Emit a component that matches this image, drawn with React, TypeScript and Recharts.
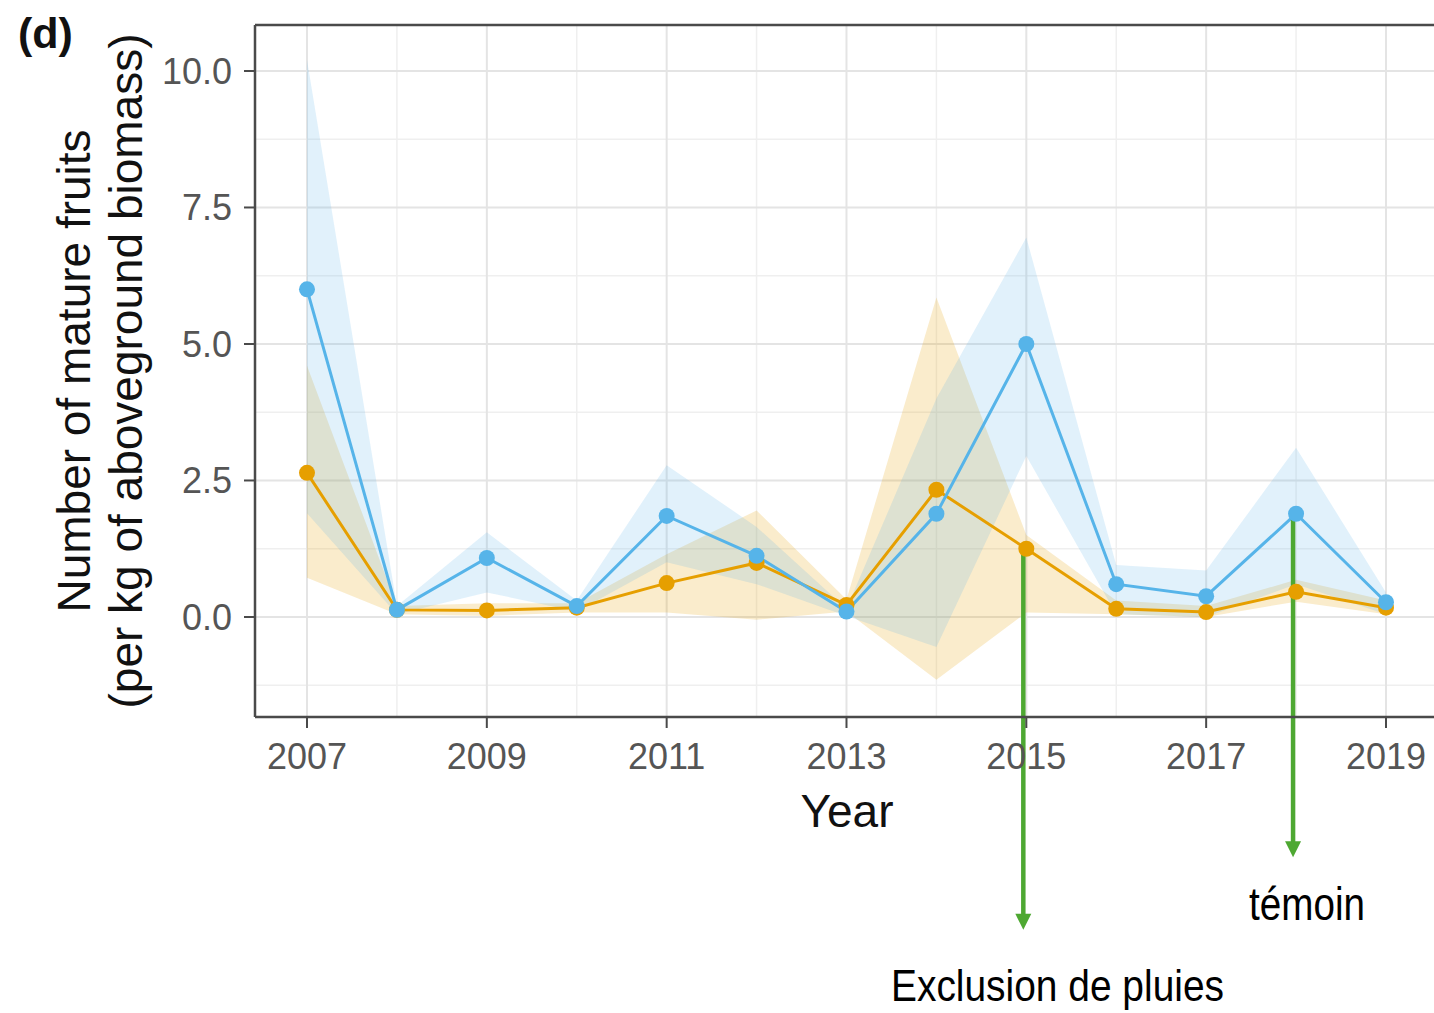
import React from 'react';
import {
  ComposedChart,
  Area,
  Line,
  XAxis,
  YAxis,
  CartesianGrid,
  ReferenceLine,
} from 'recharts';

// Years of observation
const years = [2007, 2008, 2009, 2010, 2011, 2012, 2013, 2014, 2015, 2016, 2017, 2018, 2019];

// Control plots (témoin): mean and confidence band
const temoinMean = [6.0, 0.13, 1.08, 0.2, 1.85, 1.12, 0.1, 1.89, 5.0, 0.6, 0.38, 1.89, 0.27];
const temoinLow = [1.9, 0.05, 0.45, 0.1, 1.0, 0.6, 0.02, -0.55, 2.95, 0.05, 0.0, 0.6, 0.05];
const temoinHigh = [10.2, 0.2, 1.55, 0.3, 2.78, 1.65, 0.15, 4.0, 6.95, 0.95, 0.85, 3.1, 0.45];

// Rain exclusion plots: mean and confidence band
const exclusionMean = [2.64, 0.13, 0.12, 0.17, 0.62, 0.99, 0.22, 2.33, 1.25, 0.15, 0.09, 0.46, 0.17];
const exclusionLow = [0.72, 0.05, 0.02, 0.08, 0.08, -0.05, 0.1, -1.15, 0.08, 0.05, 0.0, 0.28, 0.05];
const exclusionHigh = [4.6, 0.2, 0.25, 0.25, 1.15, 1.95, 0.32, 5.85, 1.5, 0.3, 0.2, 0.68, 0.3];

// Axis breaks
const xTicks = [2007, 2009, 2011, 2013, 2015, 2017, 2019];
const xMinor = [2008, 2010, 2012, 2014, 2016, 2018];
const yTicks = [0, 2.5, 5, 7.5, 10];
const yMinor = [-1.25, 1.25, 3.75, 6.25, 8.75];

// Annotation arrows: which year/series they start from and where they end
const exclusionArrow = { year: 2015, end: -5.73 };
const temoinArrow = { year: 2018, end: -4.4 };

const X_DOMAIN: [number, number] = [2006.4217, 2019.534];
const Y_DOMAIN: [number, number] = [-1.832, 10.842];

const BLUE = '#56B4E9';
const ORANGE = '#E69F00';
const GREEN = '#4EA832';
const AXIS = '#4a4a4a';
const FONT = '"Liberation Sans", Arial, Helvetica, sans-serif';

const data = years.map((year, i) => ({
  year,
  temoin: temoinMean[i],
  temoinBand: [temoinLow[i], temoinHigh[i]],
  exclusion: exclusionMean[i],
  exclusionBand: [exclusionLow[i], exclusionHigh[i]],
}));

const ArrowShape = (props: any) => {
  const { x1, y1, x2, y2 } = props;
  const head = 16;
  const half = 8;
  return (
    <g>
      <line x1={x1 - 3} y1={y1} x2={x2 - 3} y2={y2 - head + 2} stroke={GREEN} strokeWidth={4.5} />
      <polygon
        points={`${x2 - 3 - half},${y2 - head} ${x2 - 3 + half},${y2 - head} ${x2 - 3},${y2}`}
        fill={GREEN}
      />
    </g>
  );
};

const valueAt = (arr: number[], year: number) => arr[years.indexOf(year)];

export default function App() {
  return (
    <div style={{ position: 'absolute', left: 0, top: 0, width: 1434, height: 1013, background: '#fff' }}>
      <ComposedChart
        width={1434}
        height={1013}
        data={data}
        margin={{ top: 25, right: 0, bottom: 236, left: 0 }}
      >
        <CartesianGrid
          horizontalValues={yMinor}
          verticalValues={xMinor}
          stroke="#efefef"
          strokeWidth={1.5}
        />
        <CartesianGrid
          horizontalValues={yTicks}
          verticalValues={xTicks}
          stroke="#e4e4e4"
          strokeWidth={2}
        />
        <XAxis
          dataKey="year"
          type="number"
          domain={X_DOMAIN}
          allowDataOverflow
          ticks={xTicks}
          interval={0}
          height={60}
          tickSize={11}
          tickMargin={15}
          axisLine={{ stroke: AXIS, strokeWidth: 2.5 }}
          tickLine={{ stroke: AXIS, strokeWidth: 2 }}
          tick={{ fill: '#555', fontSize: 36, fontFamily: FONT }}
        />
        <YAxis
          type="number"
          domain={Y_DOMAIN}
          allowDataOverflow
          ticks={yTicks}
          interval={0}
          width={255}
          tickSize={11}
          tickMargin={12}
          tickFormatter={(v: number) => v.toFixed(1)}
          axisLine={{ stroke: AXIS, strokeWidth: 2.5 }}
          tickLine={{ stroke: AXIS, strokeWidth: 2 }}
          tick={{ fill: '#555', fontSize: 36, fontFamily: FONT }}
        />
        <ReferenceLine y={Y_DOMAIN[1]} stroke={AXIS} strokeWidth={2.5} ifOverflow="visible" />
        <Area
          type="linear"
          dataKey="exclusionBand"
          stroke="none"
          fill={ORANGE}
          fillOpacity={0.2}
          isAnimationActive={false}
          activeDot={false}
        />
        <Area
          type="linear"
          dataKey="temoinBand"
          stroke="none"
          fill={BLUE}
          fillOpacity={0.18}
          isAnimationActive={false}
          activeDot={false}
        />
        <Line
          type="linear"
          dataKey="exclusion"
          stroke={ORANGE}
          strokeWidth={3}
          dot={{ r: 8, fill: ORANGE, stroke: 'none' }}
          activeDot={false}
          isAnimationActive={false}
        />
        <Line
          type="linear"
          dataKey="temoin"
          stroke={BLUE}
          strokeWidth={3}
          dot={{ r: 8, fill: BLUE, stroke: 'none' }}
          activeDot={false}
          isAnimationActive={false}
        />
        <ReferenceLine
          ifOverflow="visible"
          segment={[
            { x: exclusionArrow.year, y: valueAt(exclusionMean, exclusionArrow.year) },
            { x: exclusionArrow.year, y: exclusionArrow.end },
          ]}
          shape={ArrowShape}
        />
        <ReferenceLine
          ifOverflow="visible"
          segment={[
            { x: temoinArrow.year, y: valueAt(temoinMean, temoinArrow.year) },
            { x: temoinArrow.year, y: temoinArrow.end },
          ]}
          shape={ArrowShape}
        />
      </ComposedChart>
      <svg
        width={1434}
        height={1013}
        style={{ position: 'absolute', left: 0, top: 0, pointerEvents: 'none' }}
      >
        <text x={18} y={48} fontFamily={FONT} fontWeight="bold" fontSize={43} fill="#111">
          (d)
        </text>
        <g transform="translate(90,371) rotate(-90)">
          <text x={0} y={0} textAnchor="middle" fontFamily={FONT} fontSize={46} fill="#111">
            Number of mature fruits
          </text>
        </g>
        <g transform="translate(142,371) rotate(-90)">
          <text x={0} y={0} textAnchor="middle" fontFamily={FONT} fontSize={46} fill="#111">
            (per kg of aboveground biomass)
          </text>
        </g>
        <text x={847} y={827} textAnchor="middle" fontFamily={FONT} fontSize={46} fill="#111">
          Year
        </text>
        <text
          x={891}
          y={1001}
          fontFamily={FONT}
          fontSize={45}
          fill="#000"
          textLength={333}
          lengthAdjust="spacingAndGlyphs"
        >
          Exclusion de pluies
        </text>
        <text
          x={1249}
          y={920}
          fontFamily={FONT}
          fontSize={46}
          fill="#000"
          textLength={116}
          lengthAdjust="spacingAndGlyphs"
        >
          témoin
        </text>
      </svg>
    </div>
  );
}
